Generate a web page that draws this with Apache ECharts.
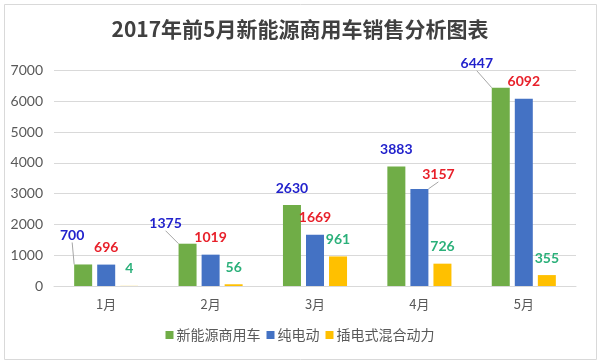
<!DOCTYPE html>
<html><head><meta charset="utf-8">
<script src="https://cdn.jsdelivr.net/npm/echarts@6/dist/echarts.min.js"></script>
<style>html,body{margin:0;padding:0;background:#fff}#c{width:600px;height:363px}</style>
</head><body><div id="c"></div>
<script>
const months = ['1月','2月','3月','4月','5月'];
const totalSales = [700, 1375, 2630, 3883, 6447];
const bevSales = [696, 1019, 1669, 3157, 6092];
const phevSales = [4, 56, 961, 726, 355];
const seriesNames = ['新能源商用车','纯电动','插电式混合动力'];
const yTicks = [0, 7000, 1000];

// label nudges (dx, dy) for labels with leader lines
const moves = {
  '0-0': [-11, -12], '0-1': [-22, -3], '0-4': [-24, -7],
  '1-3': [19, 3]
};

const chart = echarts.init(document.getElementById('c'), null, {renderer:'canvas'});
const numFont = 'Lato, "Noto Sans", sans-serif';
function mkSeries(idx, vals, color, labelColor, bold) {
  return {
    name: seriesNames[idx], type: 'bar', data: vals.map((v, i) => {
      const key = idx + '-' + i;
      const item = {value: v};
      if (moves[key]) item.labelLine = {show: true, lineStyle: {color: '#a6a6a6', width: 1}};
      return item;
    }),
    barWidth: 18, barGap: '28%',
    itemStyle: {color: color},
    label: {show: true, position: 'top', distance: 10, color: labelColor,
      fontFamily: numFont, fontSize: 14, fontWeight: bold ? 'bold' : 'normal'},
    labelLine: {show: false},
    labelLayout: function (p) {
      const m = moves[idx + '-' + p.dataIndex];
      return m ? {dx: m[0], dy: m[1]} : {};
    }
  };
}
chart.setOption({
  animation: false,
  title: {text: '2017年前5月新能源商用车销售分析图表', left: 'center', top: 14,
    textStyle: {fontSize: 21, fontWeight: 'bold', color: '#404040',
      fontFamily: '"Noto Sans CJK SC", "Noto Sans", sans-serif'}},
  graphic: [{type: 'rect', shape: {x: 4.5, y: 4.5, width: 592, height: 355},
    style: {fill: 'none', stroke: '#d9d9d9', lineWidth: 1}, silent: true}],
  legend: {bottom: 16, left: 'center', itemWidth: 8, itemHeight: 8, itemGap: 6,
    icon: 'rect', textStyle: {fontSize: 14, color: '#595959',
      fontFamily: '"Noto Sans CJK SC", sans-serif', padding: [0, 0, 0, -2]},
    data: seriesNames},
  grid: {left: 54, right: 24, top: 70.7, bottom: 77},
  xAxis: {type: 'category', data: months,
    axisLine: {lineStyle: {color: '#d9d9d9'}}, axisTick: {show: false},
    axisLabel: {color: '#595959', fontSize: 13, margin: 12,
      fontFamily: '"Noto Sans CJK SC", sans-serif'}},
  yAxis: {type: 'value', min: yTicks[0], max: yTicks[1], interval: yTicks[2],
    axisLine: {show: false}, axisTick: {show: false},
    axisLabel: {color: '#595959', fontSize: 14, margin: 11, fontFamily: numFont,
      formatter: v => String(v)},
    splitLine: {lineStyle: {color: '#d9d9d9'}}},
  series: [
    mkSeries(0, totalSales, '#70ad47', '#2222cc', true),
    mkSeries(1, bevSales, '#4472c4', '#e8202a', true),
    mkSeries(2, phevSales, '#ffc000', '#2bb07a', true)
  ]
});
</script></body></html>
